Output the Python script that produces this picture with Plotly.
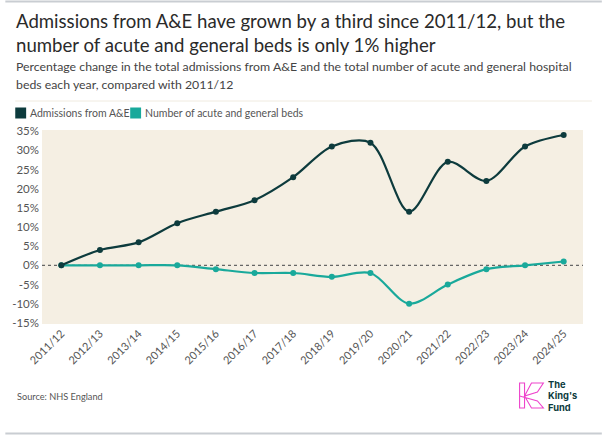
import plotly.graph_objects as go

years = ["2011/12", "2012/13", "2013/14", "2014/15", "2015/16", "2016/17", "2017/18",
         "2018/19", "2019/20", "2020/21", "2021/22", "2022/23", "2023/24", "2024/25"]
admissions = [0, 4, 6, 11, 14, 17, 23, 31, 32, 14, 27, 22, 31, 34]
beds = [0, 0, 0, 0, -1, -2, -2, -3, -2, -10, -5, -1, 0, 1]
y_ticks = [35, 30, 25, 20, 15, 10, 5, 0, -5, -10, -15]

DARK = "#0d3b3d"
TEAL = "#19a99b"
BG = "#f5efe3"
FONT = "Lato"

W, H = 602, 436
L, R, T, B = 37, 19, 130, 112

fig = go.Figure()
fig.add_trace(go.Scatter(x=list(range(len(years))), y=beds, mode="lines+markers",
                         line=dict(color=TEAL, width=2.2, shape="spline", smoothing=0.9),
                         marker=dict(color=TEAL, size=6), name="Number of acute and general beds",
                         showlegend=False))
fig.add_trace(go.Scatter(x=list(range(len(years))), y=admissions, mode="lines+markers",
                         line=dict(color=DARK, width=2.2, shape="spline", smoothing=0.9),
                         marker=dict(color=DARK, size=6), name="Admissions from A&E",
                         showlegend=False))

def px_x(px):
    return (px - L) / (W - L - R)

def px_y(py):
    return 1 - (py - T) / (H - T - B)

shapes = [
    dict(type="line", xref="paper", yref="y", x0=0, x1=1, y0=0, y1=0,
         line=dict(color="#666666", width=1.3, dash="dot"), layer="below"),
    dict(type="line", xref="paper", yref="paper", x0=px_x(0), x1=px_x(W), y0=px_y(1.5), y1=px_y(1.5),
         line=dict(color="#c9cdd2", width=2)),
    dict(type="line", xref="paper", yref="paper", x0=px_x(0), x1=px_x(W), y0=px_y(433.5), y1=px_y(433.5),
         line=dict(color="#c9cdd2", width=2)),
    dict(type="line", xref="paper", yref="paper", x0=px_x(10), x1=px_x(592), y0=px_y(101), y1=px_y(101),
         line=dict(color="#f0ebe0", width=1)),
    dict(type="rect", xref="paper", yref="paper", x0=px_x(10), x1=px_x(21), y0=px_y(107.5), y1=px_y(118.5),
         fillcolor=DARK, line=dict(width=0)),
    dict(type="rect", xref="paper", yref="paper", x0=px_x(126), x1=px_x(137), y0=px_y(107.5), y1=px_y(118.5),
         fillcolor=TEAL, line=dict(width=0)),
]

def P(x, y):
    return f"{px_x(x)},{px_y(y)}"
pink = "#ee44cc"
k_paths = [
    "M " + P(519, 383) + " L " + P(524, 383) + " L " + P(524, 408) + " L " + P(519, 408) + " Z",
    "M " + P(524, 396) + " L " + P(531, 383) + " L " + P(543, 383) + " L " + P(537, 392) + " Z",
    "M " + P(519, 396) + " L " + P(537, 401) + " L " + P(543, 408) + " L " + P(531, 408) + " L " + P(524, 396),
]
for pth in k_paths:
    shapes.append(dict(type="path", xref="paper", yref="paper", path=pth,
                       line=dict(color=pink, width=1.1), fillcolor="rgba(0,0,0,0)"))

def ann(text, x, y, size, color, family=FONT, anchor="left", pad=1):
    return dict(text=text, x=px_x(x), y=px_y(y), xref="paper", yref="paper",
                xanchor=anchor, yanchor="middle", showarrow=False, align="left",
                borderpad=pad, font=dict(family=family, size=size, color=color))

annotations = [
    ann("Admissions from A&E have grown by a third since 2011/12, but the", 9, 21, 18.6, "#2a2a2a"),
    ann("number of acute and general beds is only 1% higher", 9, 45, 18.6, "#2a2a2a"),
    ann("Percentage change in the total admissions from A&E and the total number of acute and general hospital", 9, 66, 12.3, "#444444"),
    ann("beds each year, compared with 2011/12", 9, 84, 12.3, "#444444"),
    ann("Admissions from A&E", 23, 113, 10.5, "#555555"),
    ann("Number of acute and general beds", 139, 113, 10.5, "#555555"),
    ann("Source: NHS England", 10, 396, 9.2, "#555555"),
    ann("<b>The</b>", 547, 384, 9.3, DARK, family="Inter", pad=0),
    ann("<b>King's</b>", 547, 395.5, 9.3, DARK, family="Inter", pad=0),
    ann("<b>Fund</b>", 547, 407, 9.3, DARK, family="Inter", pad=0),
]

fig.update_layout(
    width=W, height=H,
    margin=dict(l=L, r=R, t=T, b=B),
    paper_bgcolor="white",
    plot_bgcolor=BG,
    shapes=shapes,
    annotations=annotations,
    showlegend=False,
    xaxis=dict(range=[-0.5, len(years) - 0.5], tickmode="array", tickvals=list(range(len(years))),
               ticktext=years, tickangle=-45, showgrid=False, zeroline=False, showline=False,
               ticks="", tickfont=dict(family=FONT, size=11, color="#555555")),
    yaxis=dict(range=[-15.3, 35.3], tickmode="array", tickvals=y_ticks,
               ticktext=[f"{v}%" for v in y_ticks], showgrid=False, zeroline=False, showline=False,
               ticks="", ticklabelstandoff=2, tickfont=dict(family=FONT, size=11.5, color="#555555")),
)

fig.write_html("out.html")
